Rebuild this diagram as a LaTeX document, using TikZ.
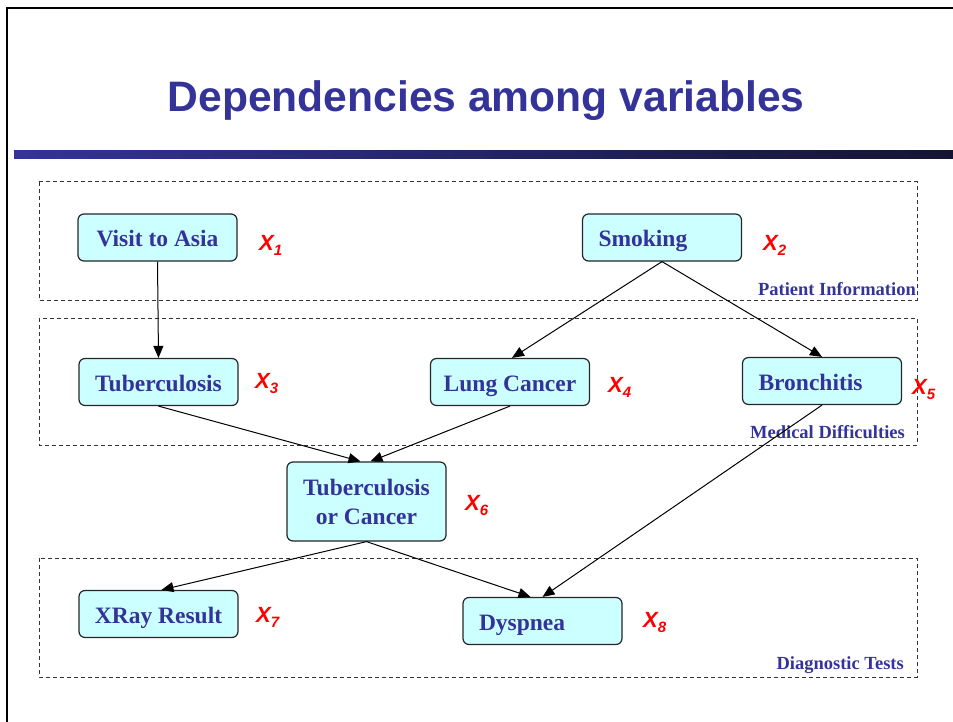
\documentclass[tikz,border=0pt]{standalone}
\usepackage{fontspec}
\setmainfont{Liberation Serif}
\newfontfamily\arialf{Liberation Sans}
\usetikzlibrary{arrows.meta}

\definecolor{navy}{HTML}{333399}
\definecolor{boxfill}{HTML}{CCFFFF}
\definecolor{bardark}{HTML}{141432}
\definecolor{barmid}{HTML}{2C2C85}

% variable label: bold italic X with a lowered index
\newcommand{\varlab}[1]{{\arialf\bfseries\itshape\fontsize{22}{22}\selectfont X}\raisebox{-5pt}{\arialf\bfseries\itshape\fontsize{15}{15}\selectfont #1}}

\tikzset{
  boxbase/.style={draw=black!85, line width=1.2pt, fill=boxfill, rounded corners=6pt,
    minimum width=159pt, minimum height=47pt, inner sep=0pt,
    text=navy, font=\bfseries\fontsize{23.5}{29}\selectfont},
  varbox/.style={boxbase, text height=22pt, text depth=4pt},
  varboxl/.style={varbox, inner xsep=16pt, text width=127pt, align=left},
  group/.style={draw=black!80, line width=1pt, dash pattern=on 4pt off 3pt},
  grouplab/.style={text=navy, font=\bfseries\fontsize{18.5}{20}\selectfont, inner sep=0pt},
  varname/.style={text=red, inner sep=0pt, anchor=base west},
  arr/.style={line width=1pt, -{Triangle[length=12pt,width=10pt]}}
}

\begin{document}
\begin{tikzpicture}[x=1pt, y=-1pt]
\useasboundingbox (0,0) rectangle (953,722);

% slide frame and title rule
\draw[line width=2.5pt] (7,730) -- (7,8) -- (960,8);
\shade[left color=navy, middle color=barmid, right color=bardark] (14,151) rectangle (953,159);
\node[text=navy, font=\arialf\bfseries\fontsize{42.6}{43}\selectfont, inner sep=0pt, anchor=base] (title) at (486,112) {Dependencies among variables};

% groups of variables
\draw[group] (39,182) rectangle (917,300);
\draw[group] (39,318) rectangle (917,445);
\draw[group] (39,558) rectangle (917,677);
\node[grouplab, anchor=base east] (gpat) at (916,295) {Patient Information};
\node[grouplab, anchor=base east] (gmed) at (905,438) {Medical Difficulties};
\node[grouplab, anchor=base east] (gdia) at (904,669) {Diagnostic Tests};

% variables
\node[varbox]  (va)  at (157.5,237.5) {Visit to Asia};
\node[varboxl] (smk) at (662,237.5) {Smoking};
\node[varbox]  (tb)  at (158.5,382) {Tuberculosis};
\node[varbox]  (lc)  at (510,382) {Lung Cancer};
\node[varboxl] (br)  at (822,381) {Bronchitis};
\node[boxbase, minimum height=79pt, align=center] (toc) at (366.5,501.5) {Tuberculosis\\or Cancer};
\node[varbox]  (xr)  at (158.5,614) {XRay Result};
\node[varboxl] (dy)  at (542.5,621) {Dyspnea};

% variable names
\node[varname] (x1) at (259,251) {\varlab{1}};
\node[varname] (x2) at (763,251) {\varlab{2}};
\node[varname] (x3) at (255,388) {\varlab{3}};
\node[varname] (x4) at (608,392) {\varlab{4}};
\node[varname] (x5) at (912,394) {\varlab{5}};
\node[varname] (x6) at (465,510) {\varlab{6}};
\node[varname] (x7) at (256,622) {\varlab{7}};
\node[varname] (x8) at (643,627) {\varlab{8}};

% dependencies
\draw[arr] (va.south) -- (tb.north);
\draw[arr] (smk.south) -- ([xshift=2pt]lc.north);
\draw[arr] (smk.south) -- (br.north);
\draw[arr] (tb.south) -- ([xshift=-6pt]toc.north);
\draw[arr] (lc.south) -- ([xshift=4pt]toc.north);
\draw[arr] (br.south) -- (dy.north);
\draw[arr] (toc.south) -- ([xshift=3pt]xr.north);
\draw[arr] (toc.south) -- ([xshift=-12pt]dy.north);
\end{tikzpicture}
\end{document}
